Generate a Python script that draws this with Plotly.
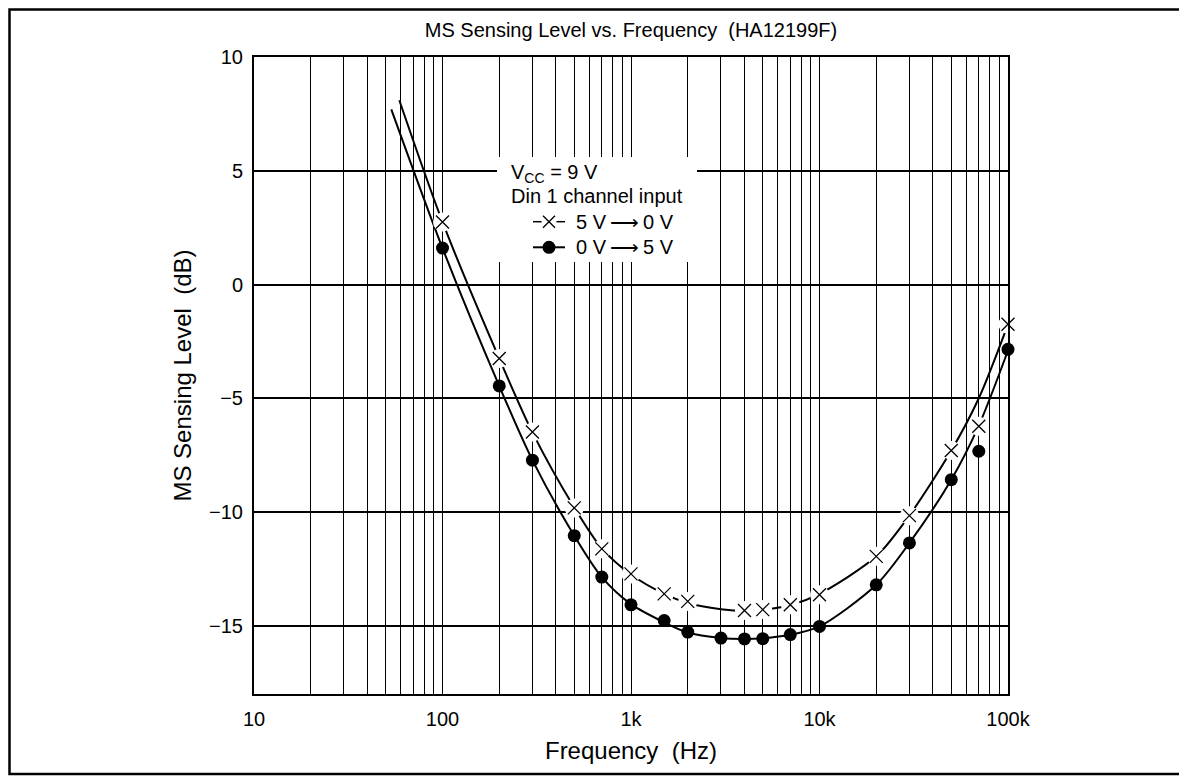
import plotly.graph_objects as go

# measured points, 5 V -> 0 V (crosses) and 0 V -> 5 V (dots)
freq_x = [100, 200, 300, 500, 700, 1000, 1500, 2000, 4000, 5000, 7000, 10000, 20000, 30000, 50000, 70000, 100000]
level_x = [2.75, -3.25, -6.48, -9.82, -11.62, -12.72, -13.6, -13.93, -14.33, -14.29, -14.08, -13.64, -11.95, -10.16, -7.3, -6.23, -1.75]

freq_d = [100, 200, 300, 500, 700, 1000, 1500, 2000, 3000, 4000, 5000, 7000, 10000, 20000, 30000, 50000, 70000, 100000]
level_d = [1.6, -4.46, -7.72, -11.04, -12.86, -14.08, -14.77, -15.28, -15.54, -15.58, -15.57, -15.39, -15.03, -13.2, -11.36, -8.58, -7.33, -2.85]

# fitted curves as drawn on the sheet
curve_x_f = [59, 100, 200, 300, 500, 700, 1000, 1500, 2000, 3000, 4000, 5000, 7000, 10000, 20000, 30000, 50000, 70000, 100000]
curve_x_v = [8.1, 2.75, -3.25, -6.5, -9.8, -11.6, -12.75, -13.6, -14.0, -14.27, -14.35, -14.3, -14.1, -13.6, -11.95, -10.15, -7.3, -5.0, -1.75]
curve_d_f = [53.5, 100, 200, 300, 500, 700, 1000, 1500, 2000, 3000, 4000, 5000, 7000, 10000, 20000, 30000, 50000, 70000, 100000]
curve_d_v = [7.7, 1.6, -4.46, -7.72, -11.04, -12.86, -14.05, -14.85, -15.3, -15.54, -15.58, -15.55, -15.4, -15.03, -13.2, -11.36, -8.58, -6.2, -2.9]

x_ticks = [m * 10 ** e for e in range(1, 5) for m in range(1, 10)] + [100000]
x_labels = {10: "10", 100: "100", 1000: "1k", 10000: "10k", 100000: "100k"}
y_ticks = [10, 5, 0, -5, -10, -15]
y_labels = ["10", "5", "0", "\u22125", "\u221210", "\u221215"]

FONT = "Liberation Sans, Arial, sans-serif"
FS = 20

# page has an 8px body margin, so the figure sits at (8, 8) in the window
OFF = 8
W, H = 1187 - OFF, 777 - OFF
# plot area in window pixels
L, R, T, B = 254, 1008, 57, 694
def px(x):
    return (x - L) / (R - L)
def py(y):
    return (B - y) / (B - T)

fig = go.Figure()

fig.add_trace(go.Scatter(x=curve_x_f, y=curve_x_v, mode="lines",
                         line=dict(color="black", width=2, shape="spline", smoothing=0.8),
                         showlegend=False, hoverinfo="skip"))
fig.add_trace(go.Scatter(x=curve_d_f, y=curve_d_v, mode="lines",
                         line=dict(color="black", width=2, shape="spline", smoothing=0.8),
                         showlegend=False, hoverinfo="skip"))
# white halo behind crosses
fig.add_trace(go.Scatter(x=freq_x, y=level_x, mode="markers", cliponaxis=False,
                         marker=dict(symbol="circle", size=19, color="white", line=dict(width=0)),
                         showlegend=False, hoverinfo="skip"))
fig.add_trace(go.Scatter(x=freq_x, y=level_x, mode="markers", name="5 V\u21920 V", cliponaxis=False,
                         marker=dict(symbol="x-thin-open", size=13, color="black",
                                     line=dict(color="black", width=1.3)),
                         showlegend=False))
fig.add_trace(go.Scatter(x=freq_d, y=level_d, mode="markers", name="0 V\u21925 V", cliponaxis=False,
                         marker=dict(symbol="circle", size=13, color="black"),
                         showlegend=False))

# note box on an overlay axis in plot-fraction units (covers the grid)
bx0, bx1, by0, by1 = px(497), px(697), py(262), py(157)
fig.add_trace(go.Scatter(x=[bx0, bx1, bx1, bx0, bx0], y=[by0, by0, by1, by1, by0],
                         mode="lines", fill="toself", fillcolor="white", line=dict(width=0),
                         xaxis="x2", yaxis="y2", showlegend=False, hoverinfo="skip"))
sx = [px(533), px(565)]
sc = px(549)
row1 = py(221.7)
row2 = py(247.3)
fig.add_trace(go.Scatter(x=sx, y=[row1, row1], mode="lines", xaxis="x2", yaxis="y2",
                         line=dict(color="black", width=1.5), showlegend=False, hoverinfo="skip"))
fig.add_trace(go.Scatter(x=[sc], y=[row1], mode="markers", xaxis="x2", yaxis="y2",
                         marker=dict(symbol="circle", size=15, color="white"), showlegend=False, hoverinfo="skip"))
fig.add_trace(go.Scatter(x=[sc], y=[row1], mode="markers", xaxis="x2", yaxis="y2",
                         marker=dict(symbol="x-thin-open", size=12, color="black",
                                     line=dict(color="black", width=1.3)),
                         showlegend=False, hoverinfo="skip"))
fig.add_trace(go.Scatter(x=sx, y=[row2, row2], mode="lines", xaxis="x2", yaxis="y2",
                         line=dict(color="black", width=2), showlegend=False, hoverinfo="skip"))
fig.add_trace(go.Scatter(x=[sc], y=[row2], mode="markers", xaxis="x2", yaxis="y2",
                         marker=dict(symbol="circle", size=13, color="black"), showlegend=False, hoverinfo="skip"))

# outer frame
fig.add_shape(type="rect", xref="paper", yref="paper",
              x0=px(9.5), x1=px(1182), y0=py(774), y1=py(9.5),
              line=dict(color="black", width=2.5), layer="above")

note = dict(xref="paper", yref="paper", showarrow=False, xanchor="left", yanchor="middle",
            font=dict(family=FONT, size=FS, color="black"))
fig.add_annotation(text="V<sub>CC</sub> = 9 V", x=px(509), y=py(173), **note)
fig.add_annotation(text="Din 1 channel input", x=px(509), y=py(196), **note)
fig.add_annotation(text="5 V\u2009\u27f6\u20090 V", x=px(574), y=row1, **note)
fig.add_annotation(text="0 V\u2009\u27f6\u20095 V", x=px(574), y=row2, **note)

fig.update_layout(
    width=W, height=H,
    margin=dict(l=L - OFF, r=1187 - R, t=T - OFF, b=777 - B),
    paper_bgcolor="white", plot_bgcolor="white",
    font=dict(family=FONT, size=FS, color="black"),
    title=dict(text="MS Sensing Level vs. Frequency\u00a0\u00a0(HA12199F)",
               x=px(631), xref="paper", y=1 - (30 - OFF) / H, yanchor="middle", xanchor="center",
               font=dict(family=FONT, size=FS, color="black")),
    xaxis=dict(type="log", range=[1, 5], tickvals=x_ticks,
               ticktext=[x_labels.get(v, "") for v in x_ticks],
               showgrid=True, gridcolor="black", gridwidth=1.3, ticks="", ticklabelstandoff=6,
               showline=True, linecolor="black", linewidth=2, mirror=True, zeroline=False,
               title=dict(text="Frequency\u00a0\u00a0(Hz)", standoff=13)),
    yaxis=dict(range=[-18, 10], tickvals=y_ticks, ticktext=y_labels,
               showgrid=True, gridcolor="black", gridwidth=1.6, ticks="", ticklabelstandoff=5,
               showline=True, linecolor="black", linewidth=2, mirror=True, zeroline=False,
               title=dict(text="MS Sensing Level\u00a0\u00a0(dB)", standoff=11)),
    xaxis2=dict(overlaying="x", range=[0, 1], visible=False),
    yaxis2=dict(overlaying="y", range=[0, 1], visible=False),
)

fig.write_html("out.html")
